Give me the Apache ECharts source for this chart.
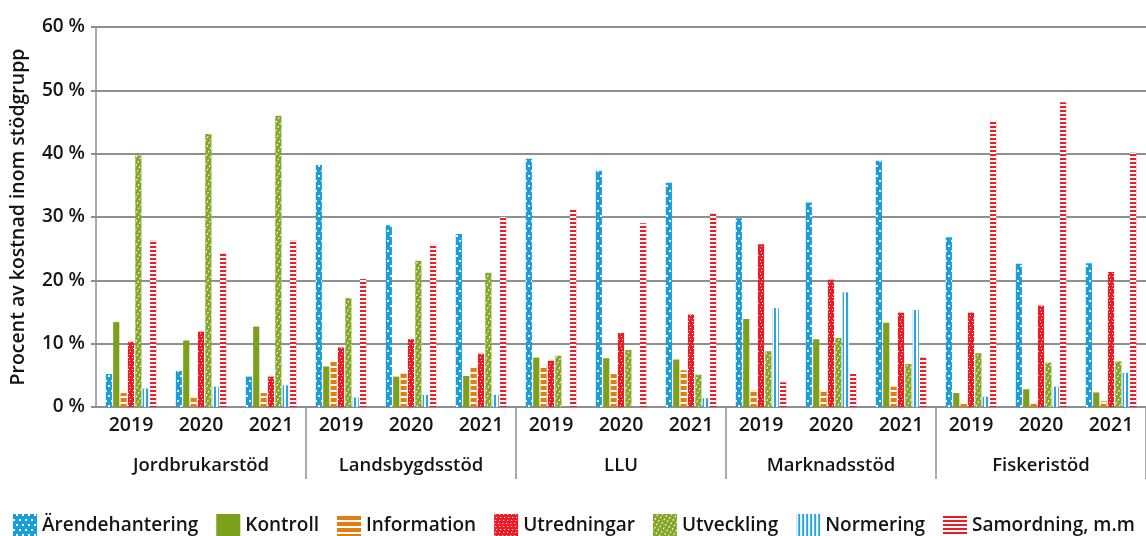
<!DOCTYPE html>
<html>
<head>
<meta charset="utf-8">
<script src="https://cdn.jsdelivr.net/npm/echarts@6/dist/echarts.min.js"></script>
<style>
html,body{margin:0;padding:0;background:#fff;}
#chart{width:1146px;height:536px;}
</style>
</head>
<body>
<div id="chart"></div>
<script>
const years = ['2019','2020','2021','2019','2020','2021','2019','2020','2021','2019','2020','2021','2019','2020','2021'];
const groups = ['Jordbrukarstöd','Landsbygdsstöd','LLU','Marknadsstöd','Fiskeristöd'];
const yTicks = [0, 10, 20, 30, 40, 50, 60];

const arendehantering = [5.2, 5.7, 4.8, 38.2, 28.7, 27.3, 39.2, 37.3, 35.4, 29.8, 32.3, 38.9, 26.8, 22.6, 22.7];
const kontroll        = [13.4, 10.5, 12.7, 6.4, 4.8, 4.9, 7.8, 7.7, 7.5, 13.9, 10.7, 13.3, 2.2, 2.8, 2.3];
const information     = [2.2, 1.6, 2.2, 7.1, 5.3, 6.3, 6.5, 5.2, 5.8, 2.6, 2.7, 3.2, 0.8, 0.5, 0.9];
const utredningar     = [10.3, 11.9, 4.8, 9.4, 10.7, 8.4, 7.3, 11.7, 14.6, 25.7, 20.1, 14.9, 14.9, 16.0, 21.3];
const utveckling      = [39.7, 43.1, 46.0, 17.2, 23.1, 21.2, 8.1, 9.0, 5.1, 8.8, 10.9, 6.8, 8.5, 7.0, 7.2];
const normering       = [2.9, 3.2, 3.4, 1.5, 1.9, 1.9, null, null, 1.4, 15.6, 18.1, 15.3, 1.6, 3.2, 5.4];
const samordning      = [26.3, 24.2, 26.3, 20.2, 25.7, 30.0, 31.1, 29.0, 30.6, 3.9, 5.2, 7.8, 45.3, 48.1, 40.2];

const seriesNames = ['Ärendehantering','Kontroll','Information','Utredningar','Utveckling','Normering','Samordning, m.m'];
const seriesData = [arendehantering, kontroll, information, utredningar, utveckling, normering, samordning];

const colors = ['#1a9ed9','#7aa01c','#e27d12','#ec1c27','#84a626','#2aa4e0','#ec1c27'];
const decals = [
  {symbol:'rect', symbolSize:1, color:'#ffffff', dashArrayX:[[2,4],[0,3,2,1]], dashArrayY:[1.5,2.5]},
  null,
  {symbol:'rect', symbolSize:1, color:'#ffffff', dashArrayX:[1,0], dashArrayY:[1.2,4]},
  {symbol:'rect', symbolSize:1, color:'#ffffff', dashArrayX:[[1,3],[0,1,1,2],[0,2,1,1],[0,1,1,2]], dashArrayY:[1,1.5]},
  {symbol:'rect', symbolSize:1, color:'#ffffff', dashArrayX:[[2,2]], dashArrayY:[1,3], rotation:-Math.PI/3},
  {symbol:'rect', symbolSize:1, color:'#ffffff', dashArrayX:[1.3,1.2], dashArrayY:[1,0]},
  {symbol:'rect', symbolSize:1, color:'#ffffff', dashArrayX:[1,0], dashArrayY:[1.3,2]}
];

const FONT = 'Open Sans';
const TXT = '#151515';
const GRIDC = '#8f8f8f';

const chart = echarts.init(document.getElementById('chart'), null, {renderer:'canvas'});

const series = seriesNames.map((name, i) => {
  const s = {
    name: name,
    type: 'bar',
    xAxisIndex: 0,
    data: seriesData[i],
    barGap: '20%',
    barCategoryGap: '28%',
    itemStyle: { color: colors[i] }
  };
  if (decals[i]) s.itemStyle.decal = decals[i];
  return s;
});

chart.setOption({
  animation: false,
  color: colors,
  grid: { left: 94, right: -1, top: 27, bottom: 129, containLabel: false },
  xAxis: [
    {
      type: 'category',
      data: years,
      position: 'bottom',
      axisLine: { show: true, lineStyle: { color: GRIDC, width: 2 } },
      axisTick: { show: false },
      axisLabel: { margin: 8, fontFamily: FONT, fontWeight: 600, fontSize: 19.5, color: TXT, interval: 0 }
    },
    {
      type: 'category',
      data: groups,
      position: 'bottom',
      axisLine: { show: false },
      axisTick: {
        show: true, length: 72, inside: false,
        interval: function (idx) { return idx > 0; },
        lineStyle: { color: GRIDC, width: 1.5 }
      },
      axisLabel: { margin: 49, fontFamily: FONT, fontWeight: 600, fontSize: 18.5, color: TXT, interval: 0 }
    }
  ],
  yAxis: {
    type: 'value',
    min: yTicks[0],
    max: yTicks[yTicks.length - 1],
    interval: 10,
    name: 'Procent av kostnad inom stödgrupp',
    nameLocation: 'middle',
    nameGap: 68,
    nameTextStyle: { fontFamily: FONT, fontWeight: 600, fontSize: 19.5, color: TXT },
    axisLine: { show: true, lineStyle: { color: GRIDC, width: 1.5 } },
    axisTick: { show: true, length: 5, lineStyle: { color: GRIDC, width: 2 } },
    splitLine: { show: true, lineStyle: { color: GRIDC, width: 2 } },
    axisLabel: { formatter: '{value} %', margin: 11, fontFamily: FONT, fontWeight: 600, fontSize: 19, color: TXT }
  },
  legend: {
    data: seriesNames,
    left: 8,
    top: 509,
    width: 1400,
    itemWidth: 24,
    itemHeight: 24,
    itemGap: 18,
    icon: 'rect',
    textStyle: { fontFamily: FONT, fontWeight: 600, fontSize: 19, color: TXT }
  },
  series: series
});
</script>
</body>
</html>
